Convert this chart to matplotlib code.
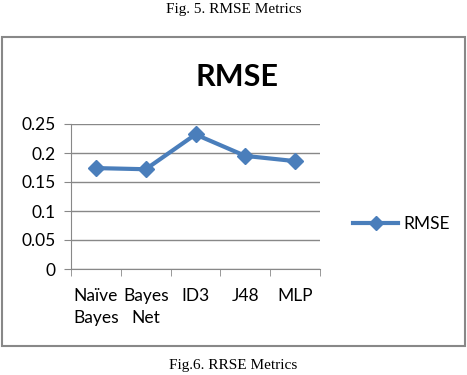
import matplotlib
matplotlib.use('Agg')
import matplotlib.pyplot as plt
from matplotlib.patches import Rectangle

categories = ['Naïve\nBayes', 'Bayes\nNet', 'ID3', 'J48', 'MLP']
rmse = [0.174, 0.172, 0.232, 0.195, 0.186]
yticks = [0, 0.05, 0.1, 0.15, 0.2, 0.25]
ytick_labels = ['0', '0.05', '0.1', '0.15', '0.2', '0.25']

blue = '#4A7EBB'
font = ['Lato', 'DejaVu Sans']

fig = plt.figure(figsize=(4.67, 3.75), dpi=100)

# chart border box
fig.patches.append(Rectangle((2 / 467, 1 - 346 / 375), 463 / 467, 309 / 375,
                             transform=fig.transFigure, fill=False,
                             edgecolor='#888888', linewidth=1.5))

fig.text(0.5, 1 - 9 / 375, 'Fig. 5. RMSE Metrics', ha='center', va='center',
         family='Liberation Serif', fontsize=11)
fig.text(0.5, 1 - 366 / 375, 'Fig.6. RRSE Metrics', ha='center', va='center',
         family='Liberation Serif', fontsize=11)

ax = fig.add_axes([71 / 467, 1 - 269 / 375, 249 / 467, 145 / 375])
x = list(range(len(categories)))
ax.plot(x, rmse, color=blue, linewidth=3, marker='D', markersize=8.5,
        label='RMSE')
ax.set_xlim(-0.5, len(categories) - 0.5)
ax.set_ylim(0, 0.25)
ax.set_yticks(yticks)
ax.set_yticklabels(ytick_labels, family=font, fontsize=12.5)
ax.set_xticks(x)
ax.set_xticklabels(categories, family=font, fontsize=12.5, linespacing=1.45)
ax.set_xticks([i - 0.5 for i in range(len(categories) + 1)], minor=True)
ax.tick_params(axis='x', which='major', length=0, pad=14)
ax.tick_params(axis='x', which='minor', length=5, color='#888888')
ax.tick_params(axis='y', length=5, color='#888888', pad=6)
ax.grid(axis='y', color='#888888', linewidth=1)
ax.set_axisbelow(True)
for s in ['top', 'right']:
    ax.spines[s].set_visible(False)
for s in ['left', 'bottom']:
    ax.spines[s].set_color('#888888')

fig.text(0.5076, 1 - 77 / 375, 'RMSE', ha='center', va='center',
         family=font, fontsize=22, fontweight='bold')

leg = ax.legend(loc='center left', bbox_to_anchor=(1.07, 0.31), frameon=False,
                prop={'family': font, 'size': 12.5}, handlelength=2.6,
                handletextpad=0.3, markerscale=0.8)

fig.savefig('out.png', dpi=100)
